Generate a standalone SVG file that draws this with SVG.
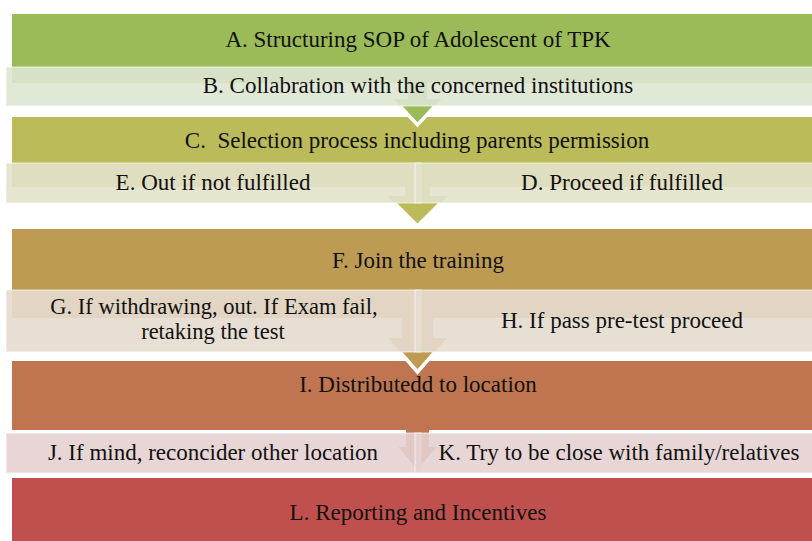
<svg xmlns="http://www.w3.org/2000/svg" width="812" height="541" viewBox="0 0 812 541">
<style>
  text { font-family: "Liberation Serif", "Times New Roman", serif; font-size: 23px; fill: #111; text-anchor: middle; }
  .ov { fill-opacity: 0.9; stroke: #ffffff; stroke-opacity: 0.45; stroke-width: 1.5; }
  .tipline { fill: none; stroke: #ffffff; stroke-width: 3.5; stroke-linejoin: miter; }
  .two { font-size: 22.5px; }
</style>
<rect width="812" height="541" fill="#ffffff"/>
<!-- main bands -->
<g id="A"><rect x="12" y="14" width="800" height="69" fill="#9bbb59"/><text x="418" y="47">A. Structuring SOP of Adolescent of TPK</text></g>
<g id="C"><rect x="12" y="117" width="800" height="70" fill="#bcbb5a"/><text x="417" y="148" xml:space="preserve">C.  Selection process including parents permission</text></g>
<g id="F"><rect x="12" y="229" width="800" height="89" fill="#be9b53"/><text x="418" y="268">F. Join the training</text></g>
<g id="I"><rect x="12" y="361" width="800" height="69" fill="#bf7650"/><text x="418" y="392">I. Distributedd to location</text></g>
<g id="L"><rect x="12" y="478" width="800" height="63" fill="#c0504d"/><text x="418" y="520">L. Reporting and Incentives</text></g>
<!-- connectors -->
<g id="connectors">
  <polygon points="408,83 427,83 427,99 441.5,99 417.5,125 393.5,99 408,99" fill="#9bbb59"/>
  <polyline class="tipline" points="400,106 417.5,125 435,106"/>
  <polygon points="405,187 430,187 430,196 447.5,196 417.5,226 387.5,196 405,196" fill="#bcbb5a"/>
  <polyline class="tipline" points="394.5,203 417.5,226 440.5,203"/>
  <polygon points="402,318 433,318 433,338 447,338 417.5,372 388,338 402,338" fill="#be9b53"/>
  <polyline class="tipline" points="400,352 417.5,372 435,352"/>
  <polygon points="406,430 429,430 429,447 436.5,447 417.5,470 398.5,447 406,447" fill="#bf7650"/>
</g>
<!-- sub rows -->
<g id="B"><rect class="ov" x="6" y="67" width="810" height="39" fill="#dde5d1"/><text x="418" y="93">B. Collabration with the concerned institutions</text></g>
<g id="E"><rect class="ov" x="6" y="163" width="415" height="40" fill="#e2e2cb"/><text x="213" y="190">E. Out if not fulfilled</text></g>
<g id="D"><rect class="ov" x="415" y="163" width="401" height="40" fill="#e2e2cb"/><text x="622" y="190">D. Proceed if fulfilled</text></g>
<g id="G"><rect class="ov" x="6" y="290" width="415" height="62" fill="#e5dccf"/><text class="two" x="214" y="314">G. If withdrawing, out. If Exam fail,</text><text class="two" x="213" y="339">retaking the test</text></g>
<g id="H"><rect class="ov" x="415" y="290" width="401" height="62" fill="#e5dccf"/><text x="622" y="328">H. If pass pre-test proceed</text></g>
<g id="J"><rect class="ov" x="6" y="433" width="415" height="40" fill="#e6d2d1"/><text x="213" y="460">J. If mind, reconcider other location</text></g>
<g id="K"><rect class="ov" x="415" y="433" width="401" height="40" fill="#e6d2d1"/><text x="619" y="460">K. Try to be close with family/relatives</text></g>
</svg>
